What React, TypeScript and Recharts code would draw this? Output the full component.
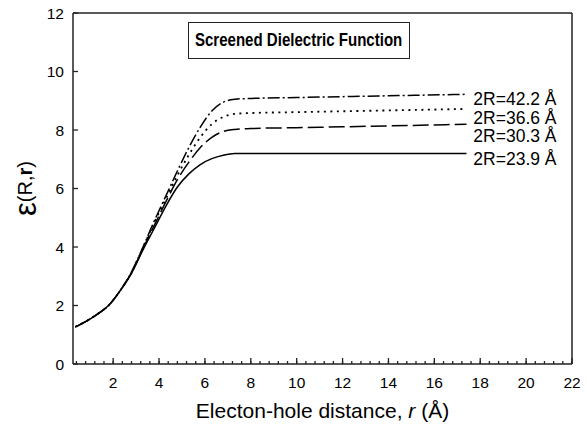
import React from 'react';
import { LineChart, Line, XAxis, YAxis, ReferenceLine, ReferenceDot, Label } from 'recharts';

// r (Å) sample positions
const rValues = [0.35, 0.8, 1.3, 1.8, 2.3, 2.8, 3.3, 3.8, 4.3, 4.8, 5.3, 5.8, 6.3, 6.8, 7.3, 8, 10, 12, 14, 17.4];
// ε(R,r) for each dot size
const eps239 = [1.27, 1.45, 1.7, 2.0, 2.5, 3.1, 3.9, 4.65, 5.4, 6.05, 6.5, 6.82, 7.02, 7.14, 7.2, 7.2, 7.2, 7.2, 7.2, 7.2];
const eps303 = [1.27, 1.45, 1.7, 2.0, 2.5, 3.12, 3.95, 4.75, 5.55, 6.3, 6.9, 7.4, 7.75, 7.95, 8.02, 8.05, 8.08, 8.11, 8.14, 8.2];
const eps366 = [1.27, 1.45, 1.7, 2.0, 2.5, 3.13, 3.98, 4.85, 5.65, 6.45, 7.15, 7.75, 8.2, 8.45, 8.55, 8.58, 8.61, 8.64, 8.67, 8.72];
const eps422 = [1.27, 1.45, 1.7, 2.0, 2.5, 3.15, 4.0, 4.9, 5.75, 6.6, 7.4, 8.1, 8.65, 8.95, 9.05, 9.08, 9.11, 9.14, 9.17, 9.22];

const seriesNames = ['2R=23.9 Å', '2R=30.3 Å', '2R=36.6 Å', '2R=42.2 Å'];
const labelY = [7.0, 7.8, 8.42, 9.06];
const labelX = 17.7;

const yTicks = [0, 2, 4, 6, 8, 10, 12];
const xMinorTicks = Array.from({ length: 55 }, (_, i) => Number(((i + 1) * 0.4).toFixed(2)));
const title = 'Screened Dielectric Function';

const FONT = '"Liberation Sans", Arial, Helvetica, sans-serif';
const AX = '#222';

const data = rValues.map((r, i) => ({ r, a: eps239[i], b: eps303[i], c: eps366[i], d: eps422[i] }));

const XTick = (props: any) => {
  const { x, y, payload } = props;
  const v = payload.value;
  const major = Math.abs(v / 2 - Math.round(v / 2)) < 1e-6;
  if (!major) return <g />;
  return (
    <g>
      <path d={`M${x},${y - 18}V${y - 24}`} stroke={AX} strokeWidth={1.3} fill="none" />
      <text x={x} y={y} textAnchor="middle" dominantBaseline="central" fontSize={15.5} fontFamily={FONT} fill="#000">
        {Math.round(v)}
      </text>
    </g>
  );
};

const YTickL = (props: any) => {
  const { x, y, payload } = props;
  return (
    <text x={x} y={y} textAnchor="end" dominantBaseline="central" fontSize={15.5} fontFamily={FONT} fill="#000">
      {payload.value}
    </text>
  );
};

const EmptyTick = () => <g />;

const XLabel = (props: any) => {
  const vb = props.viewBox;
  return (
    <text x={vb.x + vb.width / 2} y={vb.y + 46} textAnchor="middle" dominantBaseline="central" fontSize={21} fontFamily={FONT} fill="#000">
      Electon-hole distance, <tspan fontStyle="italic">r</tspan> (Å)
    </text>
  );
};

const YLabel = (props: any) => {
  const vb = props.viewBox;
  const cx = 25;
  const cy = vb.y + vb.height / 2;
  return (
    <text x={cx} y={cy} transform={`rotate(-90, ${cx}, ${cy})`} textAnchor="middle" dominantBaseline="central" fontFamily={FONT} fill="#000">
      <tspan fontSize={31}>ε</tspan>
      <tspan fontSize={20}>(R,</tspan>
      <tspan fontSize={20} fontWeight="bold">r</tspan>
      <tspan fontSize={20}>)</tspan>
    </text>
  );
};

const makeLabel = (text: string) => (p: any) => (
  <text x={p.cx} y={p.cy} dominantBaseline="central" fontSize={17.5} fontFamily={FONT} fill="#000">
    {text}
  </text>
);

export default function App() {
  return (
    <div style={{ position: 'absolute', left: 0, top: 0, width: 587, height: 430, background: '#fff' }}>
      <LineChart width={587} height={430} data={data} margin={{ top: 13, right: 14, bottom: 0, left: 0 }}>
        <XAxis
          dataKey="r"
          type="number"
          domain={[0.25, 22]}
          ticks={xMinorTicks}
          interval={0}
          tick={<XTick />}
          tickLine={{ stroke: AX, strokeWidth: 1.3 }}
          tickSize={-3}
          tickMargin={21}
          axisLine={{ stroke: AX, strokeWidth: 1.5 }}
          height={66}
          allowDataOverflow
        >
          <Label content={<XLabel />} />
        </XAxis>
        <YAxis
          type="number"
          domain={[0, 12]}
          ticks={yTicks}
          interval={0}
          tick={<YTickL />}
          tickLine={{ stroke: AX, strokeWidth: 1.3 }}
          tickSize={-5}
          tickMargin={14}
          axisLine={{ stroke: AX, strokeWidth: 1.5 }}
          width={73}
        >
          <Label content={<YLabel />} />
        </YAxis>
        <YAxis
          yAxisId="right"
          orientation="right"
          type="number"
          domain={[0, 12]}
          ticks={yTicks}
          interval={0}
          tick={<EmptyTick />}
          tickLine={{ stroke: AX, strokeWidth: 1.3 }}
          tickSize={-5}
          tickMargin={0}
          axisLine={{ stroke: AX, strokeWidth: 1.5 }}
          width={1}
        />
        <ReferenceLine y={12} stroke={AX} strokeWidth={1.5} />
        <Line dataKey="a" type="monotone" stroke="#000" strokeWidth={1.5} dot={false} isAnimationActive={false} />
        <Line dataKey="b" type="monotone" stroke="#000" strokeWidth={1.5} strokeDasharray="16 5" dot={false} isAnimationActive={false} />
        <Line dataKey="c" type="monotone" stroke="#000" strokeWidth={1.8} strokeDasharray="2 4.5" dot={false} isAnimationActive={false} />
        <Line dataKey="d" type="monotone" stroke="#000" strokeWidth={1.5} strokeDasharray="12 3 2 3" dot={false} isAnimationActive={false} />
        {seriesNames.map((n, i) => (
          <ReferenceDot key={n} x={labelX} y={labelY[i]} r={0} shape={makeLabel(n)} ifOverflow="visible" />
        ))}
      </LineChart>
      <div
        style={{
          position: 'absolute',
          left: 188,
          top: 22,
          width: 222,
          height: 37,
          border: '1.5px solid #222',
          boxSizing: 'border-box',
          fontFamily: FONT,
          fontWeight: 'bold',
          fontSize: 17.5,
          display: 'flex',
          alignItems: 'center',
          justifyContent: 'center',
          color: '#000',
          whiteSpace: 'nowrap',
        }}
      >
        <span style={{ display: 'inline-block', transform: 'scaleX(0.86)' }}>{title}</span>
      </div>
    </div>
  );
}
